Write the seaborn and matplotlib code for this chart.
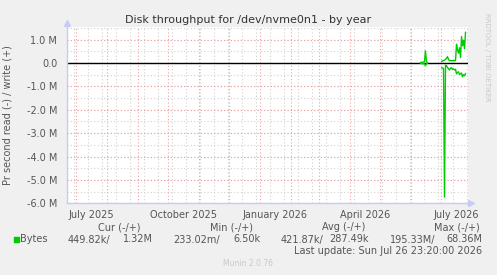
import numpy as np
import pandas as pd
import matplotlib
matplotlib.use("Agg")
import matplotlib.pyplot as plt
import matplotlib.dates as mdates
import seaborn as sns

# ---- data (daily samples, bytes per second) ----
blip_dates = ["2026-06-10", "2026-06-11", "2026-06-12", "2026-06-13", "2026-06-14",
              "2026-06-15", "2026-06-16", "2026-06-17"]
blip_write = [0.02e6, 0.03e6, 0.03e6, 0.04e6, 0.05e6, 0.52e6, 0.05e6, 0.02e6]
blip_read = [-0.02e6, -0.02e6, -0.03e6, -0.03e6, -0.04e6, -0.12e6, -0.03e6, -0.02e6]

main_dates = ["2026-07-01", "2026-07-02", "2026-07-03", "2026-07-04", "2026-07-05",
              "2026-07-06", "2026-07-07", "2026-07-08", "2026-07-09", "2026-07-10",
              "2026-07-11", "2026-07-12", "2026-07-13", "2026-07-14", "2026-07-15",
              "2026-07-16", "2026-07-17", "2026-07-18", "2026-07-19", "2026-07-20",
              "2026-07-21", "2026-07-22", "2026-07-23", "2026-07-24", "2026-07-25"]
main_write = [0.06e6, 0.09e6, 0.10e6, 0.12e6, 0.15e6, 0.20e6, 0.27e6, 0.15e6, 0.10e6, 0.10e6,
              0.10e6, 0.10e6, 0.10e6, 0.10e6, 0.10e6, 0.80e6, 0.55e6, 0.42e6, 0.65e6, 0.23e6,
              1.13e6, 0.74e6, 0.97e6, 0.60e6, 1.32e6]
main_read = [-0.20e6, -0.22e6, -0.23e6, -5.74e6, -0.09e6, -0.12e6, -0.19e6, -0.25e6, -0.30e6, -0.22e6,
             -0.20e6, -0.28e6, -0.25e6, -0.30e6, -0.27e6, -0.47e6, -0.40e6, -0.38e6, -0.50e6, -0.45e6,
             -0.43e6, -0.59e6, -0.50e6, -0.55e6, -0.45e6]

yticks = [1e6, 0, -1e6, -2e6, -3e6, -4e6, -5e6, -6e6]
ytick_labels = ["1.0 M", "0.0", "-1.0 M", "-2.0 M", "-3.0 M", "-4.0 M", "-5.0 M", "-6.0 M"]
xtick_dates = ["2025-07-16", "2025-10-16", "2026-01-16", "2026-04-16", "2026-07-16"]
xtick_labels = ["July 2025", "October 2025", "January 2026", "April 2026", "July 2026"]

legend_headers = ["Cur (-/+)", "Min (-/+)", "Avg (-/+)", "Max (-/+)"]
legend_neg = ["449.82k/", "233.02m/", "421.87k/", "195.33M/"]
legend_pos = ["1.32M", "6.50k", "287.49k", "68.36M"]

# ---- build long-form table ----
frames = []
for seg, (d, w, r) in enumerate([(blip_dates, blip_write, blip_read),
                                 (main_dates, main_write, main_read)]):
    dd = pd.to_datetime(d)
    frames.append(pd.DataFrame({"date": dd, "value": w, "unit": f"w{seg}"}))
    frames.append(pd.DataFrame({"date": dd, "value": r, "unit": f"r{seg}"}))
df = pd.concat(frames, ignore_index=True)

sns.set_theme(style="white")
plt.rcParams["font.family"] = ["DejaVu Sans"]

W, H = 497, 275
fig = plt.figure(figsize=(W / 100, H / 100), dpi=100, facecolor="#F0F0F0")
ax = fig.add_axes([67 / W, 1 - 203.3 / H, (467.5 - 67) / W, (203.3 - 26.7) / H])
ax.set_facecolor("white")

xmin = pd.Timestamp("2025-06-22")
xmax = pd.Timestamp("2026-07-26 23:20")
ax.set_xlim(xmin, xmax)
ax.set_ylim(-6.0e6, 1.55e6)

# grid: minor gray dotted
gray = "#D2D2D2"
red = "#F2A0A0"
for v in np.arange(-6e6, 1.6e6, 0.5e6):
    ax.axhline(v, color=gray, lw=0.8, ls=(0, (1, 2)), zorder=1)
for d in pd.date_range("2025-06-29", "2026-07-26", freq="14D"):
    ax.axvline(d, color=gray, lw=0.8, ls=(0, (1, 2)), zorder=1)
# major red dotted
for v in yticks:
    ax.axhline(v, color=red, lw=0.8, ls=(0, (1, 2)), zorder=1.5)
for d in pd.date_range("2025-07-01", "2026-07-01", freq="MS"):
    ax.axvline(d, color=red, lw=0.8, ls=(0, (1, 2)), zorder=1.5)

ax.axhline(0, color="black", lw=1.0, zorder=2)

sns.lineplot(data=df, x="date", y="value", units="unit", estimator=None,
             color="#00CC00", lw=1.0, ax=ax, legend=False, zorder=3)

ax.set_yticks(yticks)
ax.set_yticklabels(ytick_labels)
ax.set_xticks(pd.to_datetime(xtick_dates))
ax.set_xticklabels(xtick_labels)
ax.tick_params(axis="both", length=0, labelsize=7, colors="#555555", pad=5)
ax.tick_params(axis="y", pad=7)
ax.set_xlabel("")
ax.set_ylabel("Pr second read (-) / write (+)", fontsize=7, color="#555555", labelpad=10)

for s in ["top", "right"]:
    ax.spines[s].set_visible(False)
for s in ["left", "bottom"]:
    ax.spines[s].set_color("#C8CCF4")
    ax.spines[s].set_linewidth(1.0)
# axis arrows
ax.plot([1.0075], [0], marker=">", ms=4, color="#C8CCF4", transform=ax.transAxes, clip_on=False)
ax.plot([0], [1.02], marker="^", ms=4, color="#C8CCF4", transform=ax.transAxes, clip_on=False)

fig.text(248 / W, 1 - 20 / H, "Disk throughput for /dev/nvme0n1 - by year",
         ha="center", va="center", fontsize=8, color="#333333")
fig.text(487 / W, 1 - 57 / H, "RRDTOOL / TOBI OETIKER", rotation=270,
         ha="center", va="center", fontsize=5, color="#C8C8C8")

# legend area
hdr_right = [141, 253, 365, 480]
for x, t in zip(hdr_right, legend_headers):
    fig.text(x / W, 1 - 227 / H, t, ha="right", va="center", fontsize=7, color="#555555")
fig.patches.append(plt.Rectangle((14 / W, 1 - 242 / H), 5 / W, 5 / H,
                                 transform=fig.transFigure, color="#00CC00"))
fig.text(20 / W, 1 - 239.5 / H, "Bytes", ha="left", va="center", fontsize=7, color="#555555")
neg_right = [110, 220, 323, 435]
pos_right = [153, 260, 369, 482]
for x, t in zip(neg_right, legend_neg):
    fig.text(x / W, 1 - 239.5 / H, t, ha="right", va="center", fontsize=7, color="#555555")
for x, t in zip(pos_right, legend_pos):
    fig.text(x / W, 1 - 239.5 / H, t, ha="right", va="center", fontsize=7, color="#555555")
fig.text(482 / W, 1 - 251.5 / H, "Last update: Sun Jul 26 23:20:00 2026",
         ha="right", va="center", fontsize=7, color="#555555")
fig.text(248 / W, 1 - 263 / H, "Munin 2.0.76", ha="center", va="center",
         fontsize=5.5, color="#C8C8C8")

fig.savefig("out.png", dpi=100, facecolor=fig.get_facecolor())
